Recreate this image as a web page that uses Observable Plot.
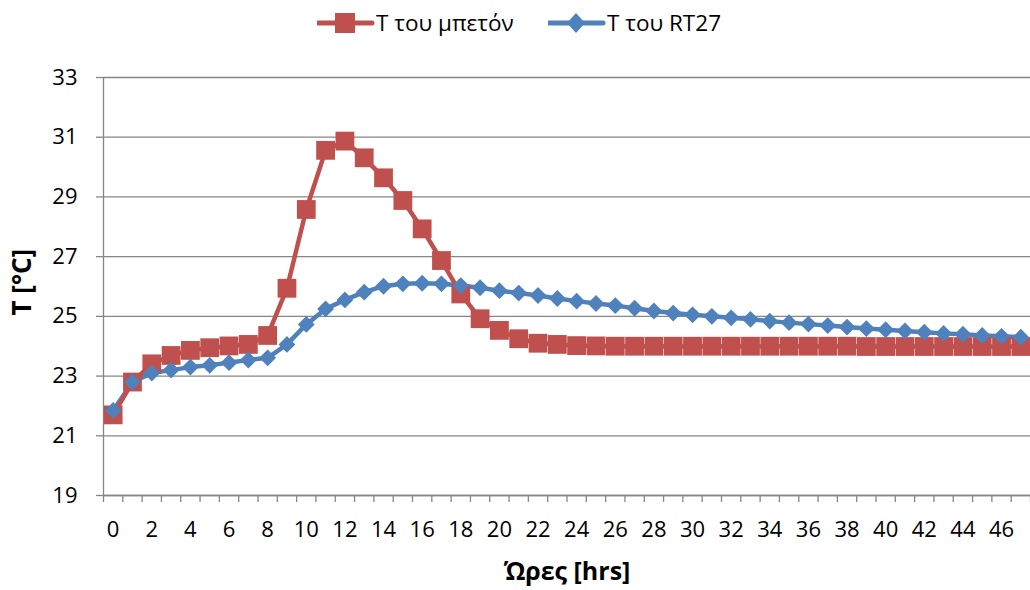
<!DOCTYPE html>
<html>
<head>
<meta charset="utf-8">
<script src="https://cdn.jsdelivr.net/npm/d3@7"></script>
<script src="https://cdn.jsdelivr.net/npm/@observablehq/plot@0.6"></script>
<style>
  body { margin: 0; background: #fff; font-family: "Open Sans", sans-serif; }
  #legend { position: relative; width: 1030px; height: 46px; }
  .lg-sw { position: absolute; top: 0; }
  .lg-tx { position: absolute; top: 23px; transform: translateY(-50%); font-size: 22.5px; color: #000; white-space: nowrap; line-height: 1; }
</style>
</head>
<body>
<div id="legend"></div>
<div id="chart"></div>
<script>
// ---- Data ----
const hours = [0,1,2,3,4,5,6,7,8,9,10,11,12,13,14,15,16,17,18,19,20,21,22,23,24,25,26,27,28,29,30,31,32,33,34,35,36,37,38,39,40,41,42,43,44,45,46,47];
const concrete = [21.7,22.8,23.41,23.69,23.86,23.95,24.01,24.06,24.36,25.94,28.58,30.56,30.87,30.31,29.64,28.88,27.93,26.87,25.75,24.92,24.53,24.25,24.10,24.06,24.02,24.01,24.00,24.00,24.00,24.00,24.00,24.00,24.00,24.00,24.00,24.00,24.00,24.00,24.00,23.99,23.99,23.99,23.99,23.99,23.99,23.99,23.99,23.99];
const rt27 = [21.85,22.8,23.1,23.2,23.3,23.36,23.45,23.54,23.61,24.06,24.73,25.25,25.55,25.81,26.01,26.09,26.11,26.09,26.03,25.96,25.86,25.78,25.70,25.60,25.51,25.43,25.36,25.27,25.18,25.11,25.05,25.0,24.95,24.9,24.84,24.79,24.74,24.69,24.64,24.59,24.55,24.51,24.47,24.43,24.40,24.36,24.33,24.30];
const seriesNames = ["Τ του μπετόν", "Τ του RT27"];
const seriesColors = ["#C0504D", "#4F81BD"];
const yTicks = [19,21,23,25,27,29,31,33];
const xLabels = [0,2,4,6,8,10,12,14,16,18,20,22,24,26,28,30,32,34,36,38,40,42,44,46];
const xTitle = "Ώρες [hrs]";
const yTitle = "T [°C]";

const rows = hours.map((h, i) => ({h, c: concrete[i], r: rt27[i]}));
const boundaries = hours.map(h => h - 0.5).concat([hours[hours.length - 1] + 0.5]);
const gray = "#868686";

// ---- Legend ----
const legend = document.getElementById("legend");
function addLegend(x0, name, color, shape) {
  const sw = document.createElementNS("http://www.w3.org/2000/svg", "svg");
  sw.setAttribute("class", "lg-sw");
  sw.setAttribute("width", 60); sw.setAttribute("height", 46);
  sw.style.left = x0 + "px";
  let m = shape === "square"
    ? `<rect x="18" y="13" width="20" height="20" fill="${color}"/>`
    : `<path d="M28,13 L37,23 L28,33 L19,23 Z" fill="${color}"/>`;
  sw.innerHTML = `<line x1="1" x2="55" y1="23" y2="23" stroke="${color}" stroke-width="5" stroke-linecap="round"/>` + m;
  legend.appendChild(sw);
  const tx = document.createElement("div");
  tx.className = "lg-tx";
  tx.style.left = (x0 + 59) + "px";
  tx.textContent = name;
  legend.appendChild(tx);
}
addLegend(317, seriesNames[0], seriesColors[0], "square");
addLegend(548, seriesNames[1], seriesColors[1], "diamond");

// ---- Chart ----
const chart = Plot.plot({
  width: 1030,
  height: 544,
  marginLeft: 103,
  marginRight: 0,
  marginTop: 31,
  marginBottom: 95,
  style: {fontFamily: "Open Sans, sans-serif", fontSize: "22px", color: "#000", background: "#fff", overflow: "hidden"},
  x: {domain: [-0.5, 47.5], axis: null},
  y: {domain: [19, 33], axis: null},
  marks: [
    Plot.gridY(yTicks, {stroke: gray, strokeOpacity: 1, strokeWidth: 1.3}),
    Plot.ruleX([-0.5], {stroke: gray, strokeWidth: 1.3}),
    Plot.ruleY([19], {stroke: gray, strokeWidth: 1.3}),
    Plot.axisY(yTicks, {tickSize: 7, tickPadding: 19, stroke: gray, strokeWidth: 1.3, fill: "#000", fontSize: 22, label: null}),
    Plot.axisX(boundaries, {tickSize: 7, stroke: gray, strokeWidth: 1.3, tickFormat: () => "", label: null}),
    Plot.axisX(xLabels, {tickSize: 0, tickPadding: 26, fill: "#000", fontSize: 22, label: null}),
    Plot.lineY(rows, {x: "h", y: "r", stroke: seriesColors[1], strokeWidth: 4.5}),
    Plot.lineY(rows, {x: "h", y: "c", stroke: seriesColors[0], strokeWidth: 4.5}),
    Plot.dot(rows, {x: "h", y: "c", symbol: "square", r: 10.6, fill: seriesColors[0]}),
    Plot.dot(rows, {x: "h", y: "r", symbol: "diamond2", r: 7.6, fill: seriesColors[1]}),
    Plot.text([yTitle], {frameAnchor: "left", dx: -81, dy: 29, rotate: -90, fontWeight: "bold", fontSize: 26, fill: "#000"}),
    Plot.text([xTitle], {frameAnchor: "bottom", lineAnchor: "middle", dy: 76, fontWeight: "bold", fontSize: 25, fill: "#000"})
  ]
});
document.getElementById("chart").appendChild(chart);
</script>
</body>
</html>
